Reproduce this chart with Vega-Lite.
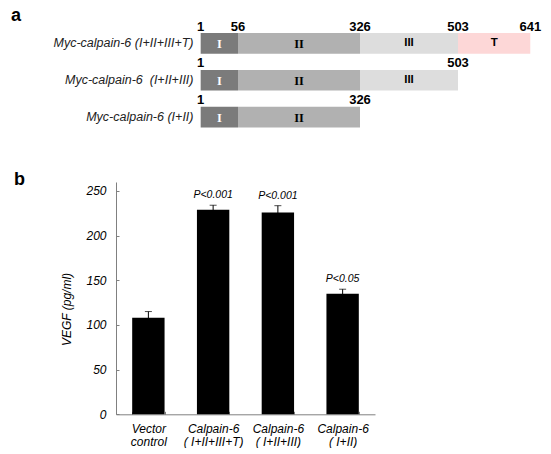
{
  "$schema": "https://vega.github.io/schema/vega-lite/v6.json",
  "padding": {"left": 11, "top": 7, "right": 0, "bottom": 0},
  "config": {
    "view": {"stroke": null},
    "font": "Liberation Sans",
    "axis": {"labelFont": "Liberation Sans", "titleFont": "Liberation Sans"}
  },
  "spacing": 34,
  "vconcat": [
    {
      "title": {"text": "a", "anchor": "start", "frame": "group", "dx": -105, "dy": 21.7, "offset": 3, "baseline": "alphabetic", "fontSize": 18, "fontWeight": "bold", "font": "Liberation Sans", "color": "black"},
      "width": 419,
      "height": 110.5,
      "layer": [
        {
          "data": {"values": [
            {"construct": "Myc-calpain-6 (I+II+III+T)", "domain": "I", "start": 1, "end": 56},
            {"construct": "Myc-calpain-6 (I+II+III+T)", "domain": "II", "start": 56, "end": 326},
            {"construct": "Myc-calpain-6 (I+II+III+T)", "domain": "III", "start": 326, "end": 503},
            {"construct": "Myc-calpain-6 (I+II+III+T)", "domain": "T", "start": 503, "end": 641},
            {"construct": "Myc-calpain-6\u00a0 (I+II+III)", "domain": "I", "start": 1, "end": 56},
            {"construct": "Myc-calpain-6\u00a0 (I+II+III)", "domain": "II", "start": 56, "end": 326},
            {"construct": "Myc-calpain-6\u00a0 (I+II+III)", "domain": "III", "start": 326, "end": 503},
            {"construct": "Myc-calpain-6 (I+II)", "domain": "I", "start": 1, "end": 56},
            {"construct": "Myc-calpain-6 (I+II)", "domain": "II", "start": 56, "end": 326}
          ]},
          "transform": [{"calculate": "(datum.start + datum.end) / 2", "as": "mid"}],
          "encoding": {
            "y": {"field": "construct", "type": "nominal", "sort": ["Myc-calpain-6 (I+II+III+T)", "Myc-calpain-6\u00a0 (I+II+III)", "Myc-calpain-6 (I+II)"],
              "scale": {"paddingInner": 0.44, "paddingOuter": 0.22},
              "axis": {"title": null, "domain": false, "ticks": false, "offset": -84, "labelPadding": 7, "labelFontStyle": "italic", "labelFontSize": 12.5, "labelColor": "#222222"}}
          },
          "layer": [
            {
              "mark": {"type": "bar"},
              "encoding": {
                "x": {"field": "start", "type": "quantitative", "scale": {"domain": [1, 56, 326, 503, 641], "range": [84, 122, 244, 342, 419]}, "axis": null},
                "x2": {"field": "end"},
                "color": {"field": "domain", "type": "nominal", "scale": {"domain": ["I", "II", "III", "T"], "range": ["#7b7b7b", "#b1b1b1", "#dddddd", "#fdd7d7"]}, "legend": null}
              }
            },
            {
              "transform": [{"filter": "datum.domain === 'I' || datum.domain === 'II'"}],
              "mark": {"type": "text", "font": "Liberation Serif", "fontWeight": "bold", "fontSize": 12.5, "dy": 0.5},
              "encoding": {
                "x": {"field": "mid", "type": "quantitative"},
                "text": {"field": "domain"},
                "color": {"condition": {"test": "datum.domain === 'I'", "value": "white"}, "value": "black"}
              }
            },
            {
              "transform": [{"filter": "datum.domain === 'III' || datum.domain === 'T'"}],
              "mark": {"type": "text", "font": "Liberation Sans", "fontWeight": "bold", "fontSize": 11.5, "color": "black"},
              "encoding": {
                "x": {"field": "mid", "type": "quantitative"},
                "text": {"field": "domain"}
              }
            }
          ]
        },
        {
          "data": {"values": [
            {"construct": "Myc-calpain-6 (I+II+III+T)", "pos": 1},
            {"construct": "Myc-calpain-6 (I+II+III+T)", "pos": 56},
            {"construct": "Myc-calpain-6 (I+II+III+T)", "pos": 326},
            {"construct": "Myc-calpain-6 (I+II+III+T)", "pos": 503},
            {"construct": "Myc-calpain-6 (I+II+III+T)", "pos": 641},
            {"construct": "Myc-calpain-6\u00a0 (I+II+III)", "pos": 1},
            {"construct": "Myc-calpain-6\u00a0 (I+II+III)", "pos": 503},
            {"construct": "Myc-calpain-6 (I+II)", "pos": 1},
            {"construct": "Myc-calpain-6 (I+II)", "pos": 326}
          ]},
          "mark": {"type": "text", "fontWeight": "bold", "fontSize": 13, "baseline": "alphabetic", "dy": -2.5, "color": "black"},
          "encoding": {
            "y": {"field": "construct", "type": "nominal", "bandPosition": 0, "sort": ["Myc-calpain-6 (I+II+III+T)", "Myc-calpain-6\u00a0 (I+II+III)", "Myc-calpain-6 (I+II)"]},
            "x": {"field": "pos", "type": "quantitative"},
            "text": {"field": "pos"}
          }
        }
      ]
    },
    {
      "title": {"text": "b", "anchor": "start", "frame": "group", "dx": -102, "dy": 23.8, "offset": 3, "baseline": "alphabetic", "fontSize": 18, "fontWeight": "bold", "font": "Liberation Sans", "color": "black"},
      "width": 259,
      "height": 232.3,
      "data": {"values": [
        {"group": "Vector|control", "vegf": 108, "sem": 7, "p": null},
        {"group": "Calpain-6|( I+II+III+T)", "vegf": 229, "sem": 5, "p": "P<0.001"},
        {"group": "Calpain-6|( I+II+III)", "vegf": 226, "sem": 7.5, "p": "P<0.001"},
        {"group": "Calpain-6|( I+II)", "vegf": 135, "sem": 5, "p": "P<0.05"}
      ]},
      "encoding": {
        "x": {"field": "group", "type": "nominal", "sort": null,
          "scale": {"paddingInner": 0.5, "paddingOuter": 0.25},
          "axis": {"title": null, "labelExpr": "split(datum.label, '|')", "labelAngle": 0, "tickBand": "extent", "tickSize": -3, "domainColor": "#808080", "tickColor": "#808080", "labelPadding": 12, "labelBaseline": "top", "labelLineHeight": 13.5, "labelFontStyle": "italic", "labelFontSize": 12, "labelColor": "black"}}
      },
      "layer": [
        {
          "mark": {"type": "bar", "color": "black"},
          "encoding": {
            "y": {"field": "vegf", "type": "quantitative", "scale": {"domain": [0, 250]},
              "axis": {"title": "VEGF (pg/ml)", "values": [0, 50, 100, 150, 200, 250], "grid": false, "domainColor": "#808080", "tickColor": "#808080", "tickSize": -3, "labelPadding": 13, "labelFlush": false, "labelOverlap": false, "labelFontStyle": "italic", "labelFontSize": 12, "labelColor": "black", "titleFontStyle": "italic", "titleFontWeight": "normal", "titleFontSize": 12, "titleColor": "black", "titlePadding": 12, "titleY": 127}}
          }
        },
        {
          "mark": {"type": "errorbar", "color": "black", "ticks": {"size": 7, "color": "black"}},
          "encoding": {
            "y": {"field": "vegf", "type": "quantitative", "title": "VEGF (pg/ml)"},
            "yError": {"field": "sem"}
          }
        },
        {
          "transform": [{"filter": "datum.p != null"}, {"calculate": "datum.vegf + datum.sem", "as": "upper"}],
          "mark": {"type": "text", "dy": -7, "baseline": "alphabetic", "fontStyle": "italic", "fontSize": 10.5, "color": "black"},
          "encoding": {
            "y": {"field": "upper", "type": "quantitative", "title": "VEGF (pg/ml)"},
            "text": {"field": "p"}
          }
        }
      ]
    }
  ]
}
